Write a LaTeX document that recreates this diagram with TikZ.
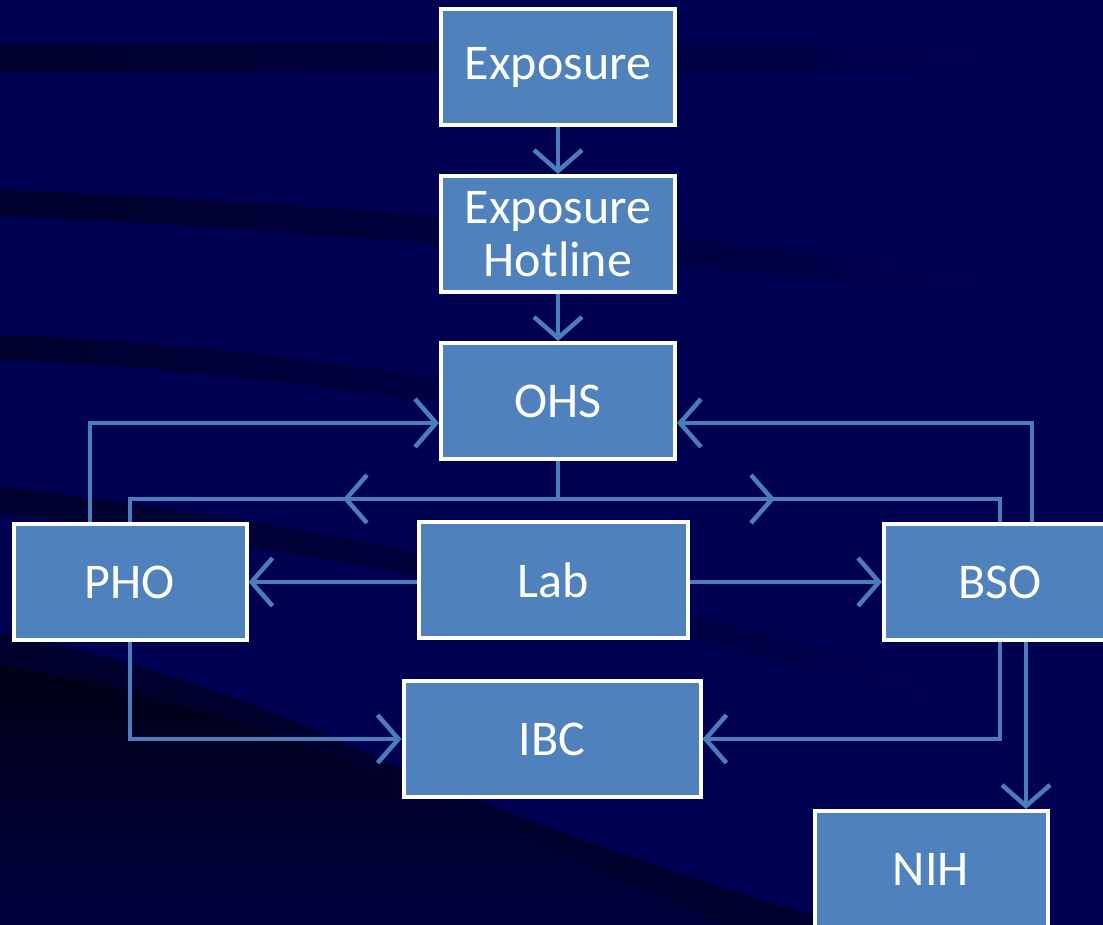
\documentclass[tikz,border=0pt]{standalone}
\usepackage{fontspec}
\setmainfont{Carlito}
\usetikzlibrary{arrows.meta,decorations.markings}

\definecolor{navy}{RGB}{0,0,82}
\definecolor{streak}{RGB}{0,0,44}
\definecolor{deepnavy}{RGB}{0,0,22}
\definecolor{boxblue}{RGB}{79,129,189}
\definecolor{linkblue}{RGB}{76,125,187}

\begin{document}
\begin{tikzpicture}[x=1pt,y=-1pt,
		box/.style={draw=white, line width=4pt, fill=boxblue, text=white,
			minimum height=116pt, inner sep=0pt, align=center,
			font=\fontsize{50}{53}\selectfont},
		link/.style={draw=linkblue, line width=4.5pt},
		flow/.style={-{Straight Barb[length=21pt,width=48pt]}},
		midtip/.style={postaction=decorate, decoration={markings,
			mark=at position #1 with {\arrow{Straight Barb[length=21pt,width=48pt]}}}}]
	% Background
	\useasboundingbox (0,0) rectangle (1103,925);
	\clip (0,0) rectangle (1103,925);
	\fill[navy] (0,0) rectangle (1103,925);

	% Dark streaks
	\shade[left color=streak, right color=navy] (0,45) rectangle (1050,72);
	\shade[left color=streak, right color=navy] (0,190) .. controls (400,205) and (800,250) .. (1050,278)
		-- (1050,305) .. controls (800,278) and (400,233) .. (0,216) -- cycle;
	\shade[left color=streak, right color=navy] (0,335) .. controls (200,342) and (400,370) .. (700,420)
		-- (700,445) .. controls (400,395) and (200,366) .. (0,360) -- cycle;
	\shade[left color=streak, right color=navy] (0,487) .. controls (150,505) and (300,528) .. (420,553)
		.. controls (600,590) and (800,640) .. (1000,700) -- (1000,725)
		.. controls (800,665) and (600,615) .. (420,577) .. controls (300,552) and (150,530) .. (0,513) -- cycle;
	\fill[streak] (0,633) .. controls (150,660) and (300,720) .. (420,777)
		.. controls (600,850) and (750,900) .. (850,925) -- (0,925) -- cycle;
	\shade[top color=deepnavy, bottom color=navy!75!black] (0,665) .. controls (150,690) and (300,740) .. (420,790)
		.. controls (550,845) and (650,890) .. (720,925) -- (0,925) -- cycle;

	% Boxes
	\node[box, minimum width=234pt] (expo) at (558,67) {Exposure};
	\node[box, minimum width=234pt] (hotline) at (558,234) {Exposure\\Hotline};
	\node[box, minimum width=234pt] (ohs) at (558,401) {OHS};
	\node[box, minimum width=269pt] (lab) at (553,580) {Lab};
	\node[box, minimum width=233pt] (pho) at (130,582) {PHO};
	\node[box, minimum width=232pt] (bso) at (1000,582) {BSO};
	\node[box, minimum width=297pt] (ibc) at (552,739) {IBC};
	\node[box, minimum width=233pt] (nih) at (931,869) {NIH};

	% Helper points
	\coordinate (hub) at (ohs.south |- 0,499);
	\coordinate (nihin) at ([xshift=26pt]bso.south);

	% Exposure chain
	\draw[link, flow] (expo) -- (hotline);
	\draw[link, flow] (hotline) -- (ohs);

	% OHS out to PHO and BSO
	\draw[link, midtip=253pt] (ohs.south) -- (hub) -| (pho.north);
	\draw[link, midtip=255pt] (ohs.south) -- (hub) -| (bso.north);

	% PHO and BSO back to OHS
	\draw[link, flow] ([xshift=-40pt]pho.north) |- ([yshift=-22pt]ohs.west);
	\draw[link, flow] ([xshift=32pt]bso.north) |- ([yshift=-22pt]ohs.east);

	% Lab out
	\draw[link, flow] (lab.west |- pho) -- (pho.east);
	\draw[link, flow] (lab.east |- bso) -- (bso.west);

	% To IBC and NIH
	\draw[link, flow] (pho.south) |- (ibc.west);
	\draw[link, flow] (bso.south) |- (ibc.east);
	\draw[link, flow] (nihin) -- (nihin |- nih.north);
\end{tikzpicture}
\end{document}
